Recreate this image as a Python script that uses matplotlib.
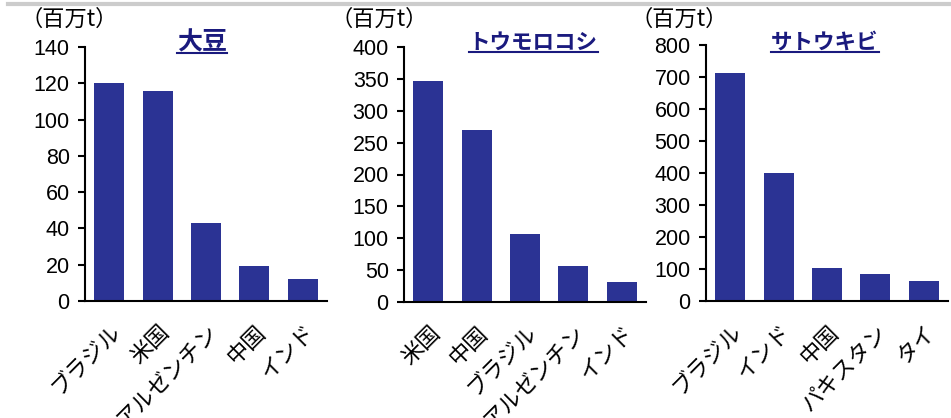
import matplotlib
matplotlib.use('Agg')
import matplotlib.pyplot as plt
from matplotlib.lines import Line2D

plt.rcParams['font.family'] = ['Liberation Sans', 'Noto Sans CJK JP', 'DejaVu Sans']

# data
soy_labels = ['ブラジル', '米国', 'アルゼンチン', '中国', 'インド']
soy_values = [120, 116, 43, 19.5, 12]
corn_labels = ['米国', '中国', 'ブラジル', 'アルゼンチン', 'インド']
corn_values = [347, 270, 107, 56, 31]
cane_labels = ['ブラジル', 'インド', '中国', 'パキスタン', 'タイ']
cane_values = [712, 400, 103, 85, 61]
titles = ['大豆', 'トウモロコシ', 'サトウキビ']
ymaxes = [140, 400, 800]
ysteps = [20, 50, 100]

W, H = 951, 418
fig = plt.figure(figsize=(W / 100, H / 100), dpi=100)

bar_color = '#2B3394'
title_color = '#1A1A7E'
jp = ['Noto Sans CJK JP', 'DejaVu Sans']

# axes boxes in pixels: left, top, right, bottom
boxes = [(85, 47, 327, 301), (404, 47, 646, 302), (706, 45, 948, 301)]
title_x = [202, 533, 825]
title_size = [18, 15.5, 15.5]
unit_x = [20, 331, 631]

labels = [soy_labels, corn_labels, cane_labels]
values = [soy_values, corn_values, cane_values]

title_texts = []
for i in range(3):
    l, t, r, b = boxes[i]
    ax = fig.add_axes([l / W, (H - b) / H, (r - l) / W, (b - t) / H])
    ax.bar(range(5), values[i], width=0.62, color=bar_color, zorder=2)
    ax.set_xlim(-0.5, 4.5)
    ax.set_ylim(0, ymaxes[i])
    ax.set_yticks(range(0, ymaxes[i] + 1, ysteps[i]))
    ax.tick_params(axis='y', direction='out', length=5, width=1.5, labelsize=15.5, pad=6)
    ax.set_xticks(range(5))
    ax.set_xticklabels(labels[i], rotation=45, ha='right', rotation_mode='anchor',
                       fontsize=16, family=jp)
    ax.tick_params(axis='x', length=0, pad=14)
    for s in ['top', 'right']:
        ax.spines[s].set_visible(False)
    for s in ['left', 'bottom']:
        ax.spines[s].set_linewidth(1.5)
    fig.text(unit_x[i] / W, 1 - 8 / H, '（百万t）', fontsize=16, va='top', ha='left', family=jp)
    title_texts.append(fig.text(title_x[i] / W, 1 - 49 / H, titles[i], fontsize=title_size[i],
                                fontweight='bold', color=title_color, ha='center',
                                va='baseline', family=jp))

# gray rule along the top
fig.add_artist(Line2D([8 / W, 1], [1 - 4 / H, 1 - 4 / H], color='#CCCCCC', linewidth=3))

# underline the titles
fig.canvas.draw()
renderer = fig.canvas.get_renderer()
for txt in title_texts:
    bb = txt.get_window_extent(renderer)
    y = (bb.y0 + 1) / H
    fig.add_artist(Line2D([bb.x0 / W, bb.x1 / W], [y, y], color=title_color, linewidth=1.5))

fig.savefig('out.png', dpi=100)
